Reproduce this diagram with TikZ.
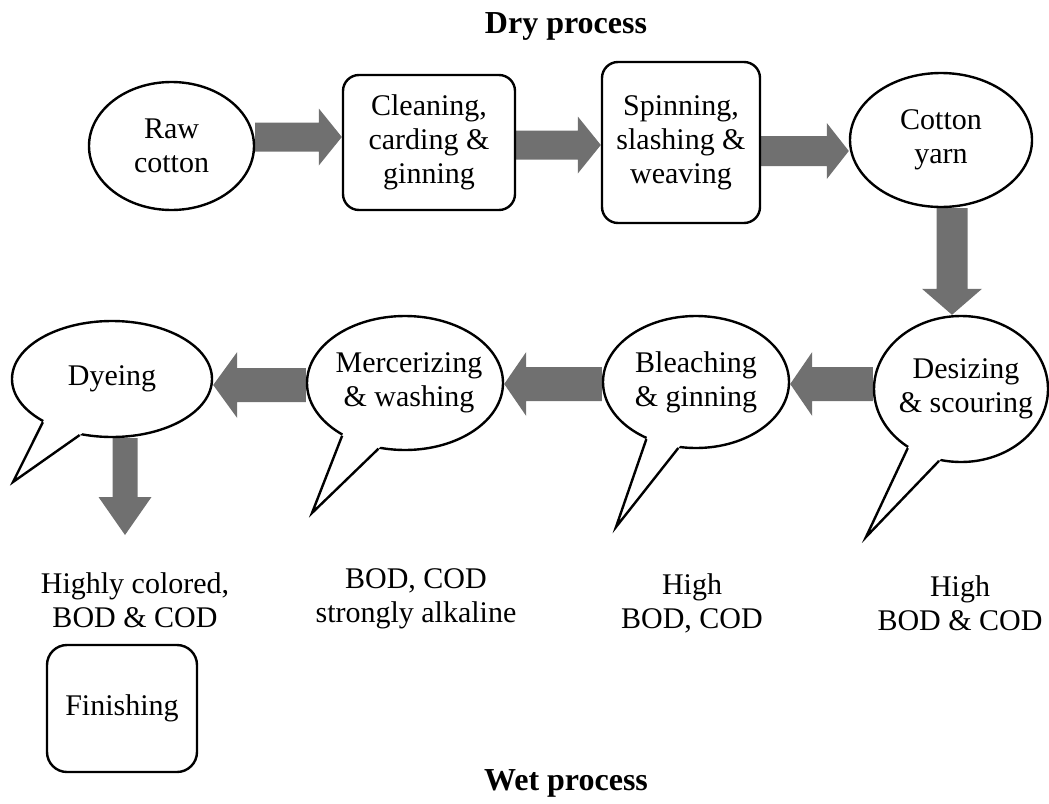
\documentclass[tikz,border=0pt]{standalone}
\usepackage{fontspec}
\setmainfont{Liberation Serif}
\usetikzlibrary{shapes.geometric,calc,backgrounds}
\definecolor{arrowgray}{RGB}{112,112,112}
% fat block arrow: #1 start, #2 end, #3 shaft half width, #4 head half width, #5 head length
\newcommand\fatarr[5]{%
  \coordinate (fah) at ($(#2)!#5!(#1)$);
  \fill[arrowgray] ($(#1)!#3!90:(#2)$) -- ($(fah)!#3!90:(#2)$) -- ($(fah)!#4!90:(#2)$) -- (#2)
    -- ($(fah)!#4!-90:(#2)$) -- ($(fah)!#3!-90:(#2)$) -- ($(#1)!#3!-90:(#2)$) -- cycle;}
% speech bubble tail: #1 node, #2 angle 1, #3 angle 2, #4 tip coordinate
\newcommand\bubtail[4]{%
  \fill[white] ($(#4)!1.25!(#1.#2)$) -- (#4) -- ($(#4)!1.25!(#1.#3)$) -- cycle;
  \draw[line width=2.4pt] (#1.#2) -- (#4) -- (#1.#3);}
\begin{document}
\begin{tikzpicture}[x=1pt,y=-1pt,
  every node/.style={font=\fontsize{30}{34}\selectfont},
  oval/.style={draw,ellipse,line width=2.4pt,fill=white,inner sep=0pt},
  stepbox/.style={draw,rounded corners=16pt,line width=2.4pt,fill=white,align=center,inner sep=0pt},
  note/.style={align=center},
  title/.style={font=\bfseries\fontsize{32}{36}\selectfont,anchor=base}]
\useasboundingbox (0,0) rectangle (1049,803);

% titles
\node[title] (dry) at (566,33) {Dry process};
\node[title] (wet) at (566,790) {Wet process};

% dry process
\node[oval,minimum width=165pt,minimum height=128pt,label={[note]center:Raw\\cotton}] (raw) at (171.5,146) {};
\node[stepbox,minimum width=172pt,minimum height=135pt] (clean) at (429,142.5) {Cleaning,\\carding \&\\ginning};
\node[stepbox,minimum width=158pt,minimum height=161pt] (spin) at (681,142.5) {Spinning,\\slashing \&\\weaving};
\node[oval,minimum width=182pt,minimum height=134pt,label={[note]center:Cotton\\yarn}] (yarn) at (941,140) {};

% wet process bubbles
\node[oval,minimum width=174pt,minimum height=146pt,label={[note,xshift=5pt]center:Desizing\\\& scouring}] (desz) at (961,389) {};
\node[oval,minimum width=186pt,minimum height=132pt,label={[note]center:Bleaching\\\& ginning}] (bleach) at (696,382) {};
\node[oval,minimum width=196pt,minimum height=134pt,label={[note,xshift=4pt]center:Mercerizing\\\& washing}] (merc) at (405,383) {};
\node[oval,minimum width=200pt,minimum height=116pt,label={[note]center:Dyeing}] (dye) at (112,379) {};

\coordinate (dsT) at (866,537);
\coordinate (blT) at (616,527);
\coordinate (meT) at (312,513);
\coordinate (dyT) at (13,482);
\bubtail{desz}{228}{253}{dsT}
\bubtail{bleach}{229}{255}{blT}
\bubtail{merc}{220}{248}{meT}
\bubtail{dye}{212}{240}{dyT}

% notes
\node[note] (n1) at (135,600) {Highly colored,\\BOD \& COD};
\node[note] (n2) at (416,599) {BOD, COD\\strongly alkaline};
\node[note] (n3) at (692,603) {High\\BOD, COD};
\node[note] (n4) at (960,603) {High\\BOD \& COD};
\node[stepbox,minimum width=150pt,minimum height=127pt,rounded corners=20pt] (fin) at (122,708.5) {Finishing};

% block arrows
\begin{scope}[on background layer]
  \coordinate (a1s) at (raw.east |- 0,137);   \coordinate (a1e) at (clean.west |- 0,137);
  \coordinate (a2s) at (clean.east |- 0,145); \coordinate (a2e) at (spin.west |- 0,145);
  \coordinate (a3s) at (spin.east |- 0,151);  \coordinate (a3e) at (yarn.west |- 0,151);
  \coordinate (a4s) at (yarn.south -| 952,0); \coordinate (a4e) at (desz.north -| 952,0);
  \coordinate (a5s) at (desz.west |- 0,384);  \coordinate (a5e) at (bleach.east |- 0,384);
  \coordinate (a6s) at (bleach.west |- 0,384); \coordinate (a6e) at (merc.east |- 0,384);
  \coordinate (a7s) at (merc.west |- 0,385);  \coordinate (a7e) at (dye.east |- 0,385);
  \coordinate (a8s) at (dye.south -| 125,0);  \coordinate (a8e) at (125,535);
  \fatarr{a1s}{a1e}{14.5pt}{28.5pt}{23pt}
  \fatarr{a2s}{a2e}{14.5pt}{28.5pt}{23pt}
  \fatarr{a3s}{a3e}{15pt}{28pt}{22pt}
  \fatarr{a4s}{a4e}{15.5pt}{30pt}{26pt}
  \fatarr{a5s}{a5e}{17pt}{32pt}{22pt}
  \fatarr{a6s}{a6e}{17pt}{32pt}{22pt}
  \fatarr{a7s}{a7e}{17pt}{33pt}{24pt}
  \fatarr{a8s}{a8e}{12.5pt}{26.5pt}{38pt}
\end{scope}
\end{tikzpicture}
\end{document}
